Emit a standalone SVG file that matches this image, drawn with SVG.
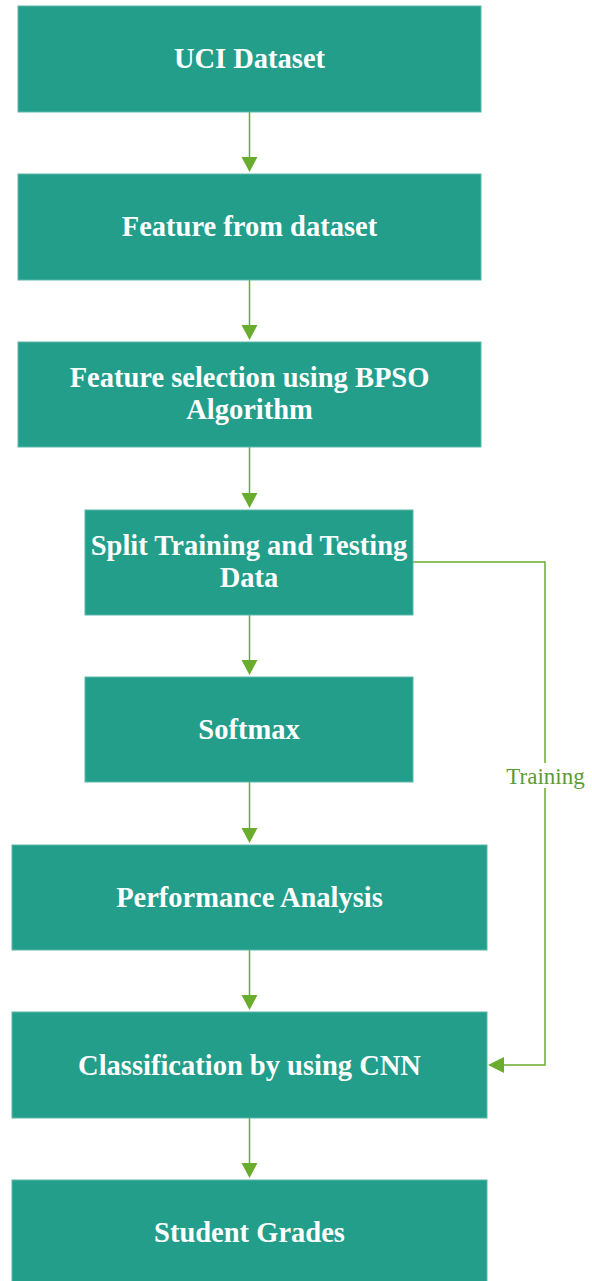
<svg xmlns="http://www.w3.org/2000/svg" width="592" height="1281" viewBox="0 0 592 1281">
<defs>
<style>
.box{fill:#229e8b;stroke:#5cb9aa;stroke-width:1}
.lbl{font-family:"Liberation Serif","Times New Roman",serif;font-weight:bold;font-size:28.5px;fill:#ffffff;text-anchor:middle}
.conn{stroke:#6aac2e;stroke-width:1.5;fill:none}
.head{fill:#6aac2e}
.tl{font-family:"Liberation Serif","Times New Roman",serif;font-size:23px;fill:#5b9b34;text-anchor:middle}
</style>
</defs>
<rect width="592" height="1281" fill="#ffffff"/>
<g id="connectors">
<line class="conn" x1="249.5" y1="112" x2="249.5" y2="158"/>
<polygon class="head" points="241.5,157 257.5,157 249.5,172"/>
<line class="conn" x1="249.5" y1="280" x2="249.5" y2="326"/>
<polygon class="head" points="241.5,325 257.5,325 249.5,340"/>
<line class="conn" x1="249.5" y1="447" x2="249.5" y2="494"/>
<polygon class="head" points="241.5,493 257.5,493 249.5,508"/>
<line class="conn" x1="249.5" y1="615" x2="249.5" y2="661"/>
<polygon class="head" points="241.5,660 257.5,660 249.5,675"/>
<line class="conn" x1="249.5" y1="782" x2="249.5" y2="829"/>
<polygon class="head" points="241.5,828 257.5,828 249.5,843"/>
<line class="conn" x1="249.5" y1="950" x2="249.5" y2="996"/>
<polygon class="head" points="241.5,995 257.5,995 249.5,1010"/>
<line class="conn" x1="249.5" y1="1118" x2="249.5" y2="1164"/>
<polygon class="head" points="241.5,1163 257.5,1163 249.5,1178"/>
<polyline class="conn" points="413,562 545,562 545,763"/>
<polyline class="conn" points="545,788 545,1065 503,1065"/>
<polygon class="head" points="504,1057 504,1073 488,1065"/>
<text class="tl" x="545.5" y="784">Training</text>
</g>
<g id="n1"><rect class="box" x="18" y="6" width="463" height="106"/><text class="lbl" x="249.5" y="68">UCI Dataset</text></g>
<g id="n2"><rect class="box" x="18" y="174" width="463" height="106"/><text class="lbl" x="249.5" y="236">Feature from dataset</text></g>
<g id="n3"><rect class="box" x="18" y="342" width="463" height="105"/><text class="lbl" x="249.5" y="387">Feature selection using BPSO</text><text class="lbl" x="249.5" y="419">Algorithm</text></g>
<g id="n4"><rect class="box" x="85" y="510" width="328" height="105"/><text class="lbl" x="249" y="555">Split Training and Testing</text><text class="lbl" x="249" y="587">Data</text></g>
<g id="n5"><rect class="box" x="85" y="677" width="328" height="105"/><text class="lbl" x="249" y="739">Softmax</text></g>
<g id="n6"><rect class="box" x="12" y="845" width="475" height="105"/><text class="lbl" x="249.5" y="907">Performance Analysis</text></g>
<g id="n7"><rect class="box" x="12" y="1012" width="475" height="106"/><text class="lbl" x="249.5" y="1075">Classification by using CNN</text></g>
<g id="n8"><rect class="box" x="12" y="1180" width="475" height="102"/><text class="lbl" x="249.5" y="1242">Student Grades</text></g>
</svg>
